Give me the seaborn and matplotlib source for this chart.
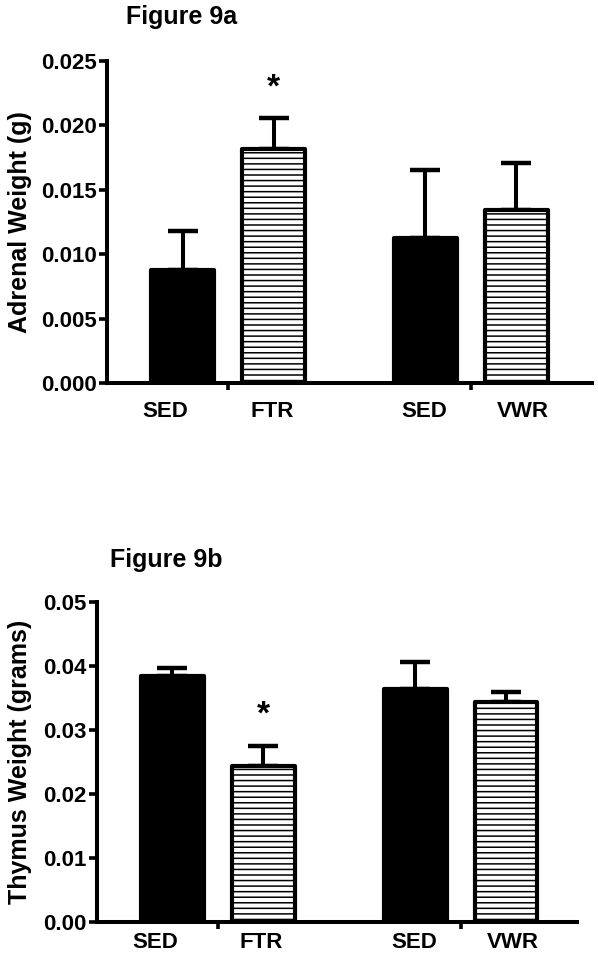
import numpy as np
import pandas as pd
import matplotlib
matplotlib.use('Agg')
import matplotlib.pyplot as plt
import seaborn as sns

# Data
groups = ['SED', 'FTR', 'SED', 'VWR']
positions = [0.0, 1.0, 2.67, 3.67]
label_positions = [-0.19, 0.98, 2.66, 3.74]
kind = ['sed', 'ex', 'sed', 'ex']

adrenal_mean = [0.00877, 0.01817, 0.01126, 0.01343]
adrenal_sem = [0.00303, 0.00240, 0.00528, 0.00365]

thymus_mean = [0.0384, 0.0244, 0.0364, 0.0344]
thymus_sem = [0.0013, 0.0031, 0.0042, 0.0015]

adrenal_ticks = [0.0, 0.005, 0.010, 0.015, 0.020, 0.025]
adrenal_ticklabels = ['0.000', '0.005', '0.010', '0.015', '0.020', '0.025']
thymus_ticks = [0.0, 0.01, 0.02, 0.03, 0.04, 0.05]
thymus_ticklabels = ['0.00', '0.01', '0.02', '0.03', '0.04', '0.05']
divider_ticks = [0.5, 3.17]

sns.set_theme(style='white')
plt.rcParams['font.family'] = ['Liberation Sans', 'DejaVu Sans']
plt.rcParams['font.weight'] = 'bold'
plt.rcParams['text.color'] = 'black'
plt.rcParams['axes.labelcolor'] = 'black'
plt.rcParams['xtick.color'] = 'black'
plt.rcParams['ytick.color'] = 'black'
plt.rcParams['hatch.linewidth'] = 1.1
plt.rcParams['hatch.color'] = 'black'

W, H = 598, 956
fig = plt.figure(figsize=(W / 100, H / 100), dpi=100)
fig.patch.set_facecolor('white')


def px_axes(left, top, right, bottom):
    return fig.add_axes([left / W, 1 - bottom / H, (right - left) / W, (bottom - top) / H])


def draw_panel(ax, means, sems, ymax, ticks, ticklabels, ylabel, star_y, xpad, ylab_x, xmax):
    df = pd.DataFrame({'pos': positions, 'val': means, 'kind': kind})
    sns.barplot(data=df, x='pos', y='val', hue='kind', native_scale=True, dodge=False,
                palette={'sed': 'black', 'ex': 'white'}, width=0.69, errorbar=None,
                legend=False, ax=ax, zorder=3)
    for patch in ax.patches:
        patch.set_edgecolor('black')
        patch.set_linewidth(3.0)
        patch.set_joinstyle('round')
        if patch.get_facecolor()[0] > 0.5:
            patch.set_hatch('---')
    eb = ax.errorbar(positions, means, yerr=[np.zeros(len(means)), sems], fmt='none',
                     ecolor='black', elinewidth=2.9, capsize=11, capthick=3.2, zorder=2)
    for cap in eb[1]:
        cap.set_solid_capstyle('round')
    ax.text(positions[1], star_y, '*', ha='center', va='center', fontsize=24,
            fontweight='bold')
    ax.set_xlim(-0.83, xmax)
    ax.set_ylim(0, ymax)
    ax.set_yticks(ticks)
    ax.set_yticklabels(ticklabels, fontsize=16, fontweight='bold')
    ax.set_xticks(label_positions)
    ax.set_xticklabels(groups, fontsize=16, fontweight='bold')
    ax.set_xticks(divider_ticks, minor=True)
    ax.tick_params(axis='x', which='major', length=0, pad=xpad)
    ax.tick_params(axis='x', which='minor', direction='out', length=5, width=2.6,
                   color='black', bottom=True)
    ax.tick_params(axis='y', direction='out', length=5.5, width=2.6, color='black',
                   left=True, pad=2)
    ax.set_xlabel('')
    ax.set_ylabel(ylabel, fontsize=18, fontweight='bold')
    ax.yaxis.set_label_coords(ylab_x, 0.5)
    for side in ['top', 'right']:
        ax.spines[side].set_visible(False)
    for side in ['left', 'bottom']:
        ax.spines[side].set_color('black')
        ax.spines[side].set_linewidth(2.9)


ax1 = px_axes(107, 61, 592, 383)
draw_panel(ax1, adrenal_mean, adrenal_sem, 0.025, adrenal_ticks, adrenal_ticklabels,
           'Adrenal Weight (g)', 0.0229, 13, -0.155, 4.5)
fig.text(182 / W, 1 - 17 / H, 'Figure 9a', ha='center', va='center',
         fontsize=18, fontweight='bold')

ax2 = px_axes(97, 602, 577, 922)
draw_panel(ax2, thymus_mean, thymus_sem, 0.05, thymus_ticks, thymus_ticklabels,
           'Thymus Weight (grams)', 0.0324, 7, -0.136, 4.45)
fig.text(166 / W, 1 - 560 / H, 'Figure 9b', ha='center', va='center',
         fontsize=18, fontweight='bold')

fig.savefig('out.png', dpi=100, facecolor='white')
plt.close(fig)
